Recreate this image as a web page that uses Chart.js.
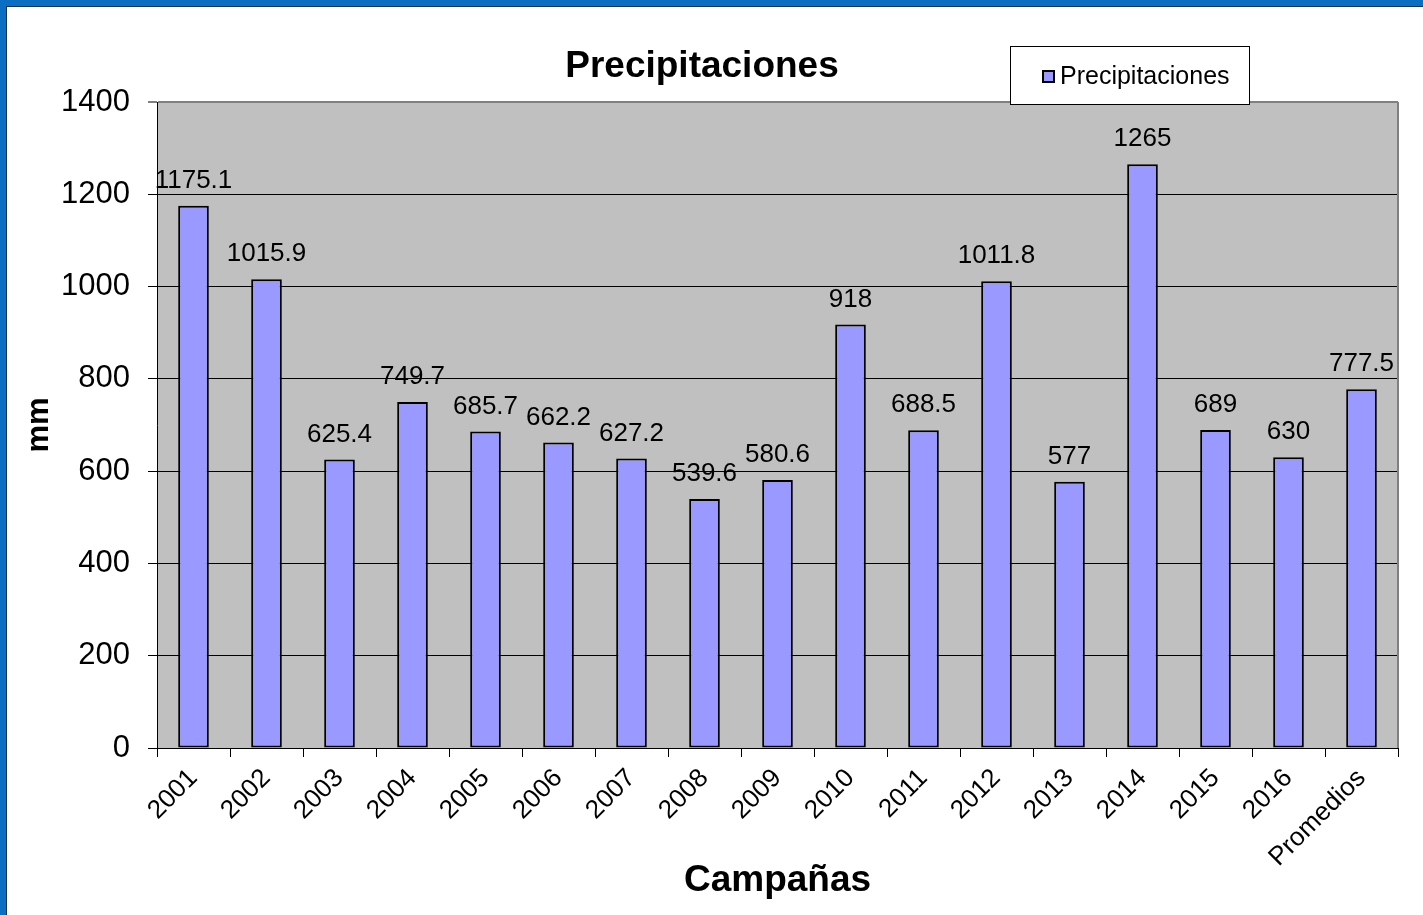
<!DOCTYPE html>
<html>
<head>
  <title>Precipitaciones</title>
  <script src="https://cdn.jsdelivr.net/npm/chart.js@4.4.1/dist/chart.umd.min.js"></script>
  <style>
    body {
      margin: 0;
      background-color: white;
      overflow: hidden;
    }
    .frame {
      position: absolute;
      left: 0;
      top: 0;
      width: 1423px;
      height: 915px;
      box-sizing: border-box;
      border-left: 6px solid #0A6FC2;
      border-top: 6px solid #0A6FC2;
      background-color: white;
    }
    .inner {
      width: 1417px;
      height: 909px;
      box-sizing: border-box;
      border-left: 1px solid #1c2f44;
      border-top: 1px solid #1c2f44;
    }
    .chart-box {
      position: relative;
      width: 1416px;
      height: 908px;
    }
  </style>
</head>
<body>
  <div class="frame">
    <div class="inner">
      <div class="chart-box">
        <canvas id="rainChart"></canvas>
      </div>
    </div>
  </div>

  <script>
    // Data
    var campaigns = ['2001', '2002', '2003', '2004', '2005', '2006', '2007', '2008', '2009',
                     '2010', '2011', '2012', '2013', '2014', '2015', '2016', 'Promedios'];
    var rainfall = [1175.1, 1015.9, 625.4, 749.7, 685.7, 662.2, 627.2, 539.6, 580.6,
                    918, 688.5, 1011.8, 577, 1265, 689, 630, 777.5];
    var yTicks = [0, 200, 400, 600, 800, 1000, 1200, 1400];
    var seriesName = 'Precipitaciones';
    var chartTitle = 'Precipitaciones';

    var fontFamily = "'Liberation Sans', Arial, sans-serif";
    var barFill = '#9999FF';

    // Right border, title, legend and value labels
    var decorations = {
      id: 'decorations',
      beforeDatasetsDraw: function(chart) {
        var a = chart.chartArea;
        var ctx = chart.ctx;
        ctx.save();
        ctx.strokeStyle = '#808080';
        ctx.lineWidth = 2;
        ctx.beginPath();
        ctx.moveTo(a.right, a.top);
        ctx.lineTo(a.right, a.bottom);
        ctx.stroke();
        ctx.restore();
      },
      afterDatasetsDraw: function(chart) {
        var ctx = chart.ctx;
        var meta = chart.getDatasetMeta(0);
        ctx.save();
        ctx.fillStyle = '#000';
        ctx.font = '26px ' + fontFamily;
        ctx.textAlign = 'center';
        ctx.textBaseline = 'middle';
        meta.data.forEach(function(bar, i) {
          ctx.fillText(String(rainfall[i]), bar.x, bar.y - 25);
        });
        ctx.restore();
      },
      afterDraw: function(chart) {
        var ctx = chart.ctx;
        ctx.save();
        // title
        ctx.fillStyle = '#000';
        ctx.font = 'bold 37px ' + fontFamily;
        ctx.textAlign = 'center';
        ctx.textBaseline = 'middle';
        ctx.fillText(chartTitle, 695, 60);

        // legend box
        ctx.fillStyle = '#fff';
        ctx.fillRect(1003, 39, 239, 58);
        ctx.strokeStyle = '#000';
        ctx.lineWidth = 1;
        ctx.strokeRect(1003.5, 39.5, 239, 58);
        ctx.fillStyle = barFill;
        ctx.fillRect(1036, 64, 11, 11);
        ctx.lineWidth = 2;
        ctx.strokeRect(1036, 64, 11, 11);
        ctx.fillStyle = '#000';
        ctx.font = '25px ' + fontFamily;
        ctx.textAlign = 'left';
        ctx.fillText(seriesName, 1053, 70);
        ctx.restore();
      }
    };

    var ctx = document.getElementById('rainChart').getContext('2d');
    var rainChart = new Chart(ctx, {
      type: 'bar',
      data: {
        labels: campaigns,
        datasets: [{
          label: seriesName,
          data: rainfall,
          backgroundColor: barFill,
          borderColor: '#000',
          borderWidth: 2,
          borderSkipped: false,
          barPercentage: 0.42,
          categoryPercentage: 1
        }]
      },
      options: {
        responsive: true,
        maintainAspectRatio: false,
        animation: false,
        layout: {
          padding: { top: 95, right: 25, bottom: 0, left: 0 }
        },
        plugins: {
          legend: { display: false },
          title: { display: false },
          tooltip: { enabled: false }
        },
        scales: {
          y: {
            min: 0,
            max: 1400,
            afterBuildTicks: function(scale) {
              scale.ticks = yTicks.map(function(v) { return { value: v }; });
            },
            afterFit: function(scale) {
              scale.width = 150;
            },
            ticks: {
              color: '#000',
              padding: 18,
              callback: function(value) { return String(value); },
              font: { family: fontFamily, size: 31 }
            },
            grid: {
              color: function(c) {
                return c.tick && c.tick.value === 1400 ? '#808080' : '#000';
              },
              lineWidth: function(c) {
                return c.tick && c.tick.value === 1400 ? 2 : 1;
              },
              tickLength: 9
            },
            border: { color: '#000', width: 1 },
            title: {
              display: true,
              text: 'mm',
              color: '#000',
              padding: { top: 14, bottom: 0 },
              font: { family: fontFamily, size: 31, weight: 'bold' }
            }
          },
          x: {
            afterFit: function(scale) {
              scale.height = 167;
            },
            ticks: {
              color: '#000',
              minRotation: 45,
              maxRotation: 45,
              padding: 6,
              autoSkip: false,
              font: { family: fontFamily, size: 26 }
            },
            grid: {
              drawOnChartArea: false,
              drawTicks: true,
              tickLength: 9,
              color: '#000'
            },
            border: { color: '#000', width: 1 },
            title: {
              display: true,
              text: 'Campañas',
              color: '#000',
              padding: { top: 0, bottom: 12 },
              font: { family: fontFamily, size: 37, weight: 'bold' }
            }
          }
        }
      },
      plugins: [{
        id: 'plotBackground',
        beforeDraw: function(chart) {
          var a = chart.chartArea;
          chart.ctx.save();
          chart.ctx.fillStyle = '#C0C0C0';
          chart.ctx.fillRect(a.left, a.top, a.right - a.left, a.bottom - a.top);
          chart.ctx.restore();
        }
      }, decorations]
    });
  </script>
</body>
</html>
